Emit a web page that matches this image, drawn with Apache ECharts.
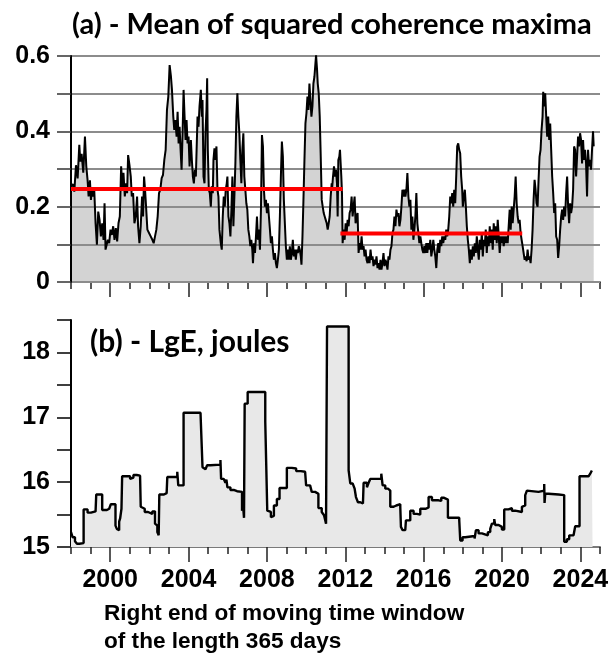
<!DOCTYPE html>
<html>
<head>
<meta charset="utf-8">
<script src="https://cdn.jsdelivr.net/npm/echarts@6/dist/echarts.min.js"></script>
<style>
  html, body { margin: 0; padding: 0; background: #fff; }
  #chart { width: 613px; height: 658px; }
</style>
</head>
<body>
<div id="chart"></div>
<script>
// Panel (a): mean of squared coherence maxima, [year, value]
const coherence = [
[1998.000,0.254],[1998.085,0.26],[1998.169,0.24],[1998.254,0.31],[1998.339,0.275],[1998.424,0.364],[1998.475,0.32],[1998.542,0.34],[1998.627,0.29],[1998.712,0.386],
[1998.780,0.307],[1998.847,0.27],[1998.898,0.227],[1998.966,0.27],[1999.017,0.218],[1999.068,0.245],[1999.136,0.227],[1999.186,0.245],[1999.254,0.156],[1999.322,0.099],
[1999.390,0.187],[1999.458,0.165],[1999.525,0.121],[1999.593,0.156],[1999.661,0.112],[1999.712,0.209],[1999.763,0.086],[1999.814,0.081],[1999.881,0.112],[1999.949,0.103],
[2000.017,0.139],[2000.085,0.125],[2000.153,0.148],[2000.220,0.112],[2000.288,0.143],[2000.356,0.108],[2000.424,0.156],[2000.492,0.174],[2000.559,0.307],[2000.627,0.245],
[2000.678,0.29],[2000.746,0.227],[2000.814,0.262],[2000.864,0.236],[2000.915,0.337],[2000.983,0.311],[2001.051,0.28],[2001.102,0.227],[2001.169,0.236],[2001.237,0.156],
[2001.305,0.174],[2001.373,0.227],[2001.424,0.148],[2001.492,0.103],[2001.559,0.148],[2001.627,0.227],[2001.678,0.174],[2001.729,0.28],[2001.780,0.245],[2001.831,0.20],
[2001.898,0.139],[2001.983,0.13],[2002.068,0.121],[2002.153,0.112],[2002.220,0.103],[2002.288,0.121],[2002.356,0.139],[2002.424,0.174],[2002.492,0.236],[2002.559,0.245],
[2002.627,0.276],[2002.695,0.284],[2002.763,0.324],[2002.831,0.351],[2002.898,0.457],[2002.966,0.492],[2003.034,0.576],[2003.102,0.545],[2003.153,0.51],[2003.220,0.439],
[2003.271,0.404],[2003.322,0.43],[2003.390,0.386],[2003.441,0.452],[2003.492,0.368],[2003.542,0.412],[2003.593,0.351],[2003.644,0.298],[2003.695,0.395],[2003.746,0.51],
[2003.797,0.439],[2003.847,0.377],[2003.898,0.43],[2003.949,0.368],[2004.000,0.386],[2004.051,0.307],[2004.119,0.377],[2004.169,0.324],[2004.220,0.28],[2004.271,0.262],
[2004.322,0.298],[2004.373,0.28],[2004.458,0.439],[2004.508,0.412],[2004.559,0.466],[2004.627,0.51],[2004.678,0.439],[2004.712,0.483],[2004.763,0.28],[2004.814,0.262],
[2004.864,0.395],[2004.915,0.457],[2004.949,0.541],[2004.983,0.351],[2005.034,0.245],[2005.085,0.236],[2005.136,0.20],[2005.186,0.254],[2005.237,0.236],[2005.271,0.324],
[2005.322,0.355],[2005.373,0.324],[2005.424,0.36],[2005.475,0.245],[2005.525,0.227],[2005.576,0.139],[2005.644,0.103],[2005.695,0.086],[2005.746,0.174],[2005.797,0.227],
[2005.847,0.20],[2005.898,0.245],[2005.949,0.262],[2005.983,0.28],[2006.034,0.174],[2006.085,0.156],[2006.136,0.121],[2006.186,0.192],[2006.237,0.28],[2006.288,0.148],
[2006.339,0.227],[2006.390,0.315],[2006.441,0.439],[2006.492,0.501],[2006.542,0.439],[2006.593,0.395],[2006.644,0.324],[2006.695,0.262],[2006.746,0.351],[2006.797,0.395],
[2006.847,0.28],[2006.898,0.245],[2006.949,0.209],[2007.000,0.192],[2007.051,0.139],[2007.102,0.121],[2007.153,0.095],[2007.203,0.112],[2007.254,0.086],[2007.288,0.05],
[2007.339,0.103],[2007.390,0.077],[2007.441,0.121],[2007.492,0.174],[2007.542,0.112],[2007.593,0.139],[2007.644,0.086],[2007.695,0.192],[2007.746,0.39],[2007.797,0.36],
[2007.847,0.245],[2007.898,0.20],[2007.949,0.218],[2008.000,0.183],[2008.051,0.209],[2008.102,0.174],[2008.153,0.139],[2008.203,0.103],[2008.254,0.121],[2008.305,0.086],
[2008.356,0.059],[2008.407,0.077],[2008.458,0.05],[2008.508,0.037],[2008.559,0.059],[2008.610,0.086],[2008.661,0.174],[2008.712,0.28],[2008.763,0.373],[2008.814,0.333],
[2008.864,0.218],[2008.915,0.156],[2008.966,0.095],[2009.017,0.059],[2009.068,0.086],[2009.119,0.059],[2009.169,0.095],[2009.220,0.059],[2009.271,0.077],[2009.322,0.112],
[2009.373,0.068],[2009.424,0.086],[2009.475,0.059],[2009.525,0.086],[2009.576,0.077],[2009.627,0.095],[2009.678,0.086],[2009.729,0.068],[2009.763,0.046],[2009.814,0.121],
[2009.864,0.218],[2009.915,0.324],[2009.966,0.421],[2010.017,0.448],[2010.068,0.492],[2010.119,0.457],[2010.169,0.527],[2010.220,0.483],[2010.271,0.439],[2010.322,0.466],
[2010.373,0.527],[2010.424,0.545],[2010.475,0.58],[2010.508,0.602],[2010.559,0.563],[2010.593,0.527],[2010.644,0.501],[2010.695,0.439],[2010.746,0.333],[2010.797,0.218],
[2010.847,0.20],[2010.898,0.183],[2010.949,0.174],[2011.000,0.165],[2011.051,0.156],[2011.102,0.139],[2011.153,0.156],[2011.203,0.174],[2011.254,0.227],[2011.305,0.262],
[2011.322,0.245],[2011.373,0.28],[2011.424,0.307],[2011.475,0.28],[2011.525,0.298],[2011.576,0.262],[2011.610,0.174],[2011.644,0.324],[2011.695,0.333],[2011.729,0.351],
[2011.763,0.315],[2011.797,0.28],[2011.831,0.236],[2011.864,0.103],[2011.915,0.139],[2011.966,0.112],[2012.017,0.156],[2012.068,0.13],[2012.119,0.165],[2012.169,0.148],
[2012.220,0.183],[2012.271,0.192],[2012.322,0.227],[2012.373,0.174],[2012.424,0.20],[2012.475,0.227],[2012.525,0.156],[2012.576,0.174],[2012.627,0.183],[2012.678,0.077],
[2012.729,0.103],[2012.780,0.086],[2012.831,0.121],[2012.881,0.086],[2012.932,0.095],[2012.983,0.068],[2013.034,0.086],[2013.085,0.059],[2013.136,0.05],[2013.186,0.068],
[2013.237,0.05],[2013.288,0.086],[2013.339,0.059],[2013.390,0.068],[2013.441,0.042],[2013.492,0.059],[2013.542,0.046],[2013.593,0.068],[2013.644,0.037],[2013.695,0.05],
[2013.746,0.033],[2013.797,0.059],[2013.847,0.033],[2013.898,0.05],[2013.949,0.077],[2014.000,0.042],[2014.051,0.059],[2014.102,0.05],[2014.153,0.033],[2014.203,0.068],
[2014.254,0.059],[2014.305,0.086],[2014.356,0.095],[2014.407,0.13],[2014.458,0.139],[2014.508,0.174],[2014.559,0.148],[2014.610,0.192],[2014.661,0.174],[2014.712,0.183],
[2014.763,0.148],[2014.814,0.165],[2014.864,0.20],[2014.915,0.245],[2014.966,0.227],[2015.017,0.245],[2015.068,0.227],[2015.119,0.245],[2015.169,0.289],[2015.220,0.227],
[2015.271,0.20],[2015.322,0.218],[2015.373,0.139],[2015.424,0.174],[2015.475,0.112],[2015.525,0.139],[2015.576,0.174],[2015.627,0.236],[2015.678,0.156],[2015.729,0.13],
[2015.780,0.103],[2015.831,0.121],[2015.881,0.103],[2015.932,0.086],[2015.983,0.077],[2016.034,0.095],[2016.085,0.077],[2016.136,0.103],[2016.186,0.077],[2016.237,0.103],
[2016.288,0.086],[2016.339,0.112],[2016.390,0.068],[2016.441,0.086],[2016.492,0.112],[2016.542,0.086],[2016.593,0.068],[2016.644,0.037],[2016.695,0.086],[2016.746,0.103],
[2016.797,0.077],[2016.847,0.112],[2016.898,0.095],[2016.949,0.121],[2017.000,0.103],[2017.051,0.121],[2017.102,0.112],[2017.153,0.139],[2017.203,0.121],[2017.254,0.139],
[2017.305,0.174],[2017.356,0.227],[2017.407,0.209],[2017.458,0.236],[2017.508,0.20],[2017.559,0.245],[2017.610,0.209],[2017.661,0.28],[2017.712,0.36],[2017.763,0.368],
[2017.814,0.351],[2017.864,0.342],[2017.915,0.28],[2017.966,0.245],[2018.000,0.20],[2018.051,0.227],[2018.102,0.245],[2018.153,0.20],[2018.203,0.148],[2018.254,0.112],
[2018.305,0.086],[2018.356,0.05],[2018.407,0.086],[2018.458,0.059],[2018.508,0.095],[2018.559,0.068],[2018.610,0.103],[2018.661,0.077],[2018.712,0.121],[2018.763,0.086],
[2018.814,0.059],[2018.864,0.112],[2018.915,0.086],[2018.966,0.13],[2019.017,0.068],[2019.068,0.112],[2019.119,0.095],[2019.169,0.139],[2019.220,0.077],[2019.271,0.121],
[2019.322,0.095],[2019.373,0.148],[2019.424,0.103],[2019.475,0.139],[2019.525,0.086],[2019.576,0.156],[2019.627,0.112],[2019.678,0.148],[2019.729,0.103],[2019.780,0.165],
[2019.831,0.121],[2019.881,0.077],[2019.932,0.121],[2019.983,0.103],[2020.034,0.121],[2020.085,0.095],[2020.136,0.121],[2020.186,0.103],[2020.237,0.121],[2020.288,0.103],
[2020.339,0.148],[2020.390,0.192],[2020.441,0.139],[2020.492,0.20],[2020.542,0.156],[2020.593,0.192],[2020.644,0.227],[2020.695,0.28],[2020.746,0.209],[2020.797,0.174],
[2020.847,0.156],[2020.898,0.165],[2020.949,0.13],[2021.000,0.112],[2021.051,0.095],[2021.102,0.077],[2021.153,0.059],[2021.203,0.068],[2021.254,0.055],[2021.305,0.086],
[2021.356,0.059],[2021.407,0.068],[2021.458,0.05],[2021.508,0.086],[2021.559,0.139],[2021.610,0.218],[2021.661,0.271],[2021.712,0.245],[2021.763,0.209],[2021.814,0.20],
[2021.864,0.271],[2021.915,0.333],[2021.966,0.351],[2022.017,0.404],[2022.068,0.439],[2022.102,0.505],[2022.153,0.466],[2022.203,0.501],[2022.254,0.439],[2022.305,0.386],
[2022.356,0.439],[2022.407,0.377],[2022.458,0.421],[2022.508,0.351],[2022.559,0.28],[2022.610,0.236],[2022.661,0.183],[2022.712,0.209],[2022.763,0.121],[2022.814,0.112],
[2022.864,0.064],[2022.915,0.095],[2022.966,0.139],[2023.017,0.174],[2023.068,0.192],[2023.119,0.165],[2023.169,0.20],[2023.220,0.174],[2023.271,0.236],[2023.322,0.28],
[2023.373,0.20],[2023.424,0.156],[2023.475,0.209],[2023.525,0.183],[2023.576,0.20],[2023.627,0.245],[2023.678,0.36],[2023.729,0.351],[2023.780,0.28],[2023.831,0.333],
[2023.881,0.386],[2023.932,0.36],[2023.983,0.395],[2024.034,0.377],[2024.085,0.315],[2024.136,0.377],[2024.186,0.324],[2024.237,0.351],[2024.288,0.315],[2024.339,0.227],
[2024.390,0.351],[2024.441,0.307],[2024.492,0.324],[2024.542,0.298],[2024.593,0.351],[2024.644,0.40],[2024.678,0.36]
];

// Mean levels before and after the end of 2011
const meanLevels = [
  { from: 1998.00, to: 2011.86, value: 0.247 },
  { from: 2011.75, to: 2021.03, value: 0.129 }
];

// Panel (b): LgE step values, [year the level starts, level]
const lgeSteps = [
[1998.000,15.23],[1998.085,15.15],[1998.203,15.09],[1998.305,15.05],[1998.424,15.08],[1998.508,15.06],[1998.644,15.58],[1998.847,15.53],[1999.017,15.55],[1999.254,15.58],
[1999.288,15.81],[1999.593,15.57],[1999.831,15.59],[1999.949,15.56],[2000.034,15.66],[2000.271,15.33],[2000.339,15.28],[2000.407,15.26],[2000.458,15.39],[2000.508,15.44],
[2000.576,15.59],[2000.610,16.09],[2001.017,16.05],[2001.085,16.07],[2001.186,16.11],[2001.356,16.12],[2001.441,16.10],[2001.525,16.08],[2001.559,15.62],[2001.644,15.59],
[2001.763,15.54],[2001.932,15.51],[2002.153,15.55],[2002.288,15.36],[2002.356,15.33],[2002.407,15.23],[2002.475,15.18],[2002.508,15.81],[2002.746,15.83],[2002.881,15.85],
[2002.915,16.08],[2003.424,16.16],[2003.475,15.95],[2003.746,17.07],[2004.610,17.09],[2004.712,16.23],[2004.780,16.20],[2004.864,16.23],[2004.949,16.26],[2005.119,16.27],
[2005.627,16.34],[2005.661,16.05],[2005.797,16.03],[2005.881,15.99],[2005.932,16.04],[2005.983,15.92],[2006.136,15.88],[2006.305,15.86],[2006.475,15.85],[2006.729,15.56],
[2006.780,15.64],[2006.831,15.45],[2006.864,17.21],[2007.017,17.39],[2007.915,16.93],[2008.017,15.56],[2008.085,15.54],[2008.203,15.46],[2008.288,15.48],[2008.356,15.64],
[2008.508,15.74],[2008.644,15.91],[2009.017,16.22],[2009.271,16.21],[2009.492,16.17],[2009.729,16.16],[2009.949,16.18],[2010.000,15.95],[2010.203,15.94],[2010.288,15.85],
[2010.458,15.82],[2010.627,15.60],[2010.797,15.54],[2010.881,15.56],[2010.915,15.49],[2010.966,15.52],[2011.017,15.36],[2011.068,18.40],[2012.170,16.18],[2012.255,15.98],
[2012.374,15.95],[2012.476,15.90],[2012.544,15.77],[2012.646,15.69],[2012.765,15.67],[2012.901,15.65],[2012.935,15.99],[2013.105,15.92],[2013.190,15.99],[2013.276,16.05],
[2013.837,16.13],[2013.905,15.95],[2014.041,15.90],[2014.177,15.87],[2014.296,15.62],[2014.466,15.64],[2014.602,15.66],[2014.806,15.62],[2014.840,15.31],[2014.925,15.26],
[2015.061,15.24],[2015.095,15.41],[2015.316,15.56],[2015.486,15.51],[2015.656,15.50],[2015.827,15.59],[2016.116,15.61],[2016.252,15.77],[2016.422,15.72],[2016.762,15.71],
[2016.898,15.76],[2017.017,15.73],[2017.238,15.45],[2017.816,15.41],[2017.867,15.10],[2017.986,15.15],[2018.122,15.17],[2018.599,15.13],[2018.667,15.26],[2018.803,15.21],
[2018.973,15.18],[2019.279,15.23],[2019.398,15.28],[2019.483,15.36],[2019.602,15.43],[2019.653,15.34],[2019.823,15.31],[2019.993,15.27],[2020.112,15.58],[2020.333,15.60],
[2020.503,15.56],[2020.673,15.54],[2021.014,15.62],[2021.099,15.64],[2021.184,15.80],[2021.269,15.87],[2021.354,15.85],[2021.864,15.87],[2022.153,15.97],[2022.170,15.68],
[2022.204,15.82],[2022.374,15.81],[2022.884,15.80],[2023.173,15.08],[2023.310,15.12],[2023.429,15.18],[2023.650,15.20],[2023.735,15.32],[2023.956,16.09],[2024.415,16.08],
[2024.500,16.13],[2024.585,16.18]
];
const lgeEnd = 2024.62;

// Axis settings
const yearMin = 1998, yearMax = 2025;
const yearLabels = [2000, 2004, 2008, 2012, 2016, 2020, 2024];
const titleA = '(a) - Mean of squared coherence maxima';
const titleB = '(b) - LgE, joules';
const xName = 'Right end of moving time window\nof the length 365 days';

// Turn the level list into a stepped polyline (level holds until the next change)
function stepLine(steps, end) {
  const out = [];
  for (let i = 0; i < steps.length; i++) {
    const nextX = i + 1 < steps.length ? steps[i + 1][0] : end;
    out.push([steps[i][0], steps[i][1]]);
    out.push([nextX, steps[i][1]]);
  }
  return out;
}
const lgeLine = stepLine(lgeSteps, lgeEnd);

const boldSans = { fontFamily: 'Liberation Sans, Arial, sans-serif', fontWeight: 'bold', color: '#000' };
const yLabelFont = Object.assign({ fontSize: 25 }, boldSans);
const xLabelFont = Object.assign({ fontSize: 25 }, boldSans);

function minorX(gridIndex) {
  return {
    gridIndex, type: 'value', min: yearMin, max: yearMax, interval: 1,
    axisLine: { show: true, onZero: false, lineStyle: { color: '#7a7a7a', width: 2 } },
    axisTick: { show: true, length: 7, lineStyle: { color: '#222', width: 1.5 } },
    axisLabel: { show: false }, splitLine: { show: false }
  };
}
function majorX(gridIndex, showLabels) {
  return {
    gridIndex, type: 'value', min: yearMin, max: yearMax, position: 'bottom',
    axisLine: { show: false },
    axisTick: { show: true, length: 15, customValues: yearLabels, lineStyle: { color: '#222', width: 1.5 } },
    axisLabel: Object.assign({ show: showLabels, customValues: yearLabels, margin: 21, formatter: v => String(v) }, xLabelFont),
    splitLine: { show: false }
  };
}

const chart = echarts.init(document.getElementById('chart'), null, { renderer: 'canvas' });
chart.setOption({
  animation: false,
  backgroundColor: '#fff',
  title: [
    { text: titleA, left: 67, top: 5, textStyle: { fontFamily: 'Lato', fontWeight: 'bold', fontSize: 29, color: '#000' } },
    { text: titleB, left: 85, top: 322, textStyle: { fontFamily: 'Lato', fontWeight: 'bold', fontSize: 30, color: '#000' } },
    { text: xName, left: 99, top: 595, textStyle: Object.assign({ fontSize: 22.6, lineHeight: 28 }, boldSans) }
  ],
  grid: [
    { left: 71, top: 56, width: 529, height: 226 },
    { left: 71, top: 320, width: 529, height: 227 }
  ],
  xAxis: [minorX(0), majorX(0, false), minorX(1), majorX(1, true)],
  yAxis: [
    {
      gridIndex: 0, type: 'value', min: 0, max: 0.6, interval: 0.1, z: 2,
      axisLine: { show: true, lineStyle: { color: '#000', width: 2 } },
      axisTick: { show: true, length: 14, lineStyle: { color: '#333', width: 1.5 } },
      axisLabel: Object.assign({
        margin: 21,
        formatter: v => (Math.round(v * 10) % 2 === 0 ? (v === 0 ? '0' : v.toFixed(1)) : '')
      }, yLabelFont),
      splitLine: { show: true, lineStyle: { color: '#8c8c8c', width: 2 } }
    },
    {
      gridIndex: 1, type: 'value', min: 15, max: 18.5, interval: 0.5,
      axisLine: { show: true, lineStyle: { color: '#000', width: 2 } },
      axisTick: { show: true, length: 14, lineStyle: { color: '#000', width: 1.5 } },
      axisLabel: Object.assign({
        margin: 21,
        formatter: v => (Number.isInteger(v) ? String(v) : '')
      }, yLabelFont),
      splitLine: { show: false }
    }
  ],
  series: [
    {
      type: 'line', xAxisIndex: 0, yAxisIndex: 0, z: 1, data: coherence, symbol: 'none',
      lineStyle: { width: 0 }, areaStyle: { color: '#d3d3d3', opacity: 1 }, silent: true
    },
    {
      type: 'line', xAxisIndex: 0, yAxisIndex: 0, z: 3, data: coherence, symbol: 'none',
      lineStyle: { color: '#000', width: 2 }
    },
    ...meanLevels.map(m => ({
      type: 'line', xAxisIndex: 0, yAxisIndex: 0, z: 4, symbol: 'none',
      data: [[m.from, m.value], [m.to, m.value]],
      lineStyle: { color: '#ff0000', width: 4 }
    })),
    {
      type: 'line', xAxisIndex: 2, yAxisIndex: 1, z: 3, data: lgeLine, symbol: 'none',
      lineStyle: { color: '#000', width: 2.4 }, areaStyle: { color: '#e8e8e8', opacity: 1 }
    }
  ]
});
</script>
</body>
</html>
